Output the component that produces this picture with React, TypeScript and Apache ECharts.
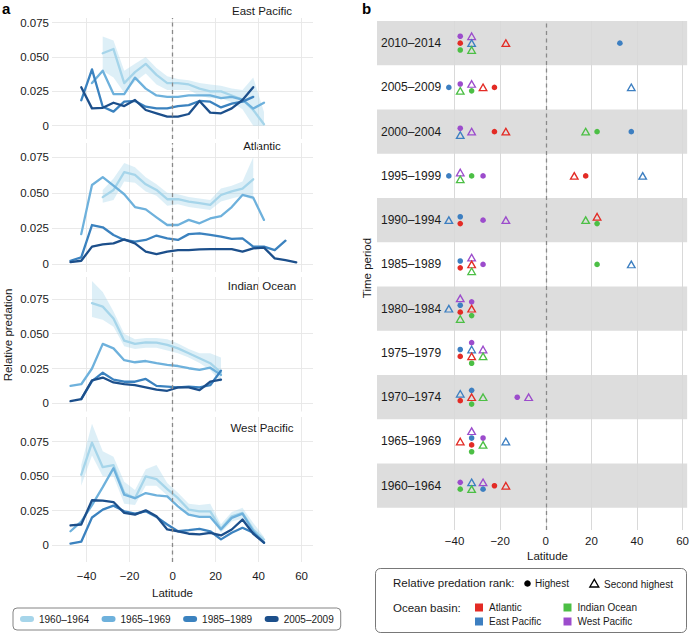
import React, { useEffect, useRef } from 'react';
import * as echarts from 'echarts';

// ---------- Panel a data ----------
const latBins = [-47.5, -42.5, -37.5, -32.5, -27.5, -22.5, -17.5, -12.5, -7.5, -2.5, 2.5, 7.5, 12.5, 17.5, 22.5, 27.5, 32.5, 37.5, 42.5, 47.5, 52.5, 57.5];
const periodsA = ['1960–1964', '1965–1969', '1985–1989', '2005–2009'];
const colorsA = ['#a6d5ea', '#6eb1dc', '#3b82bf', '#1c4f8b'];
const basinsA = ['East Pacific', 'Atlantic', 'Indian Ocean', 'West Pacific'];
const N = null;

const ep1960 = [N, N, N, 0.0527, 0.0558, 0.031, 0.039, 0.045, 0.037, 0.031, 0.031, 0.030, 0.027, 0.025, 0.025, 0.022, 0.019, 0.0114, 0.001, N, N, N];
const ep1965 = [N, N, 0.031, 0.040, 0.023, 0.023, 0.035, 0.027, 0.022, 0.021, 0.021, 0.022, 0.022, 0.022, 0.020, 0.021, 0.019, 0.0125, 0.0167, N, N, N];
const ep1985 = [N, 0.0185, 0.041, 0.0138, 0.0102, 0.0175, 0.018, 0.0138, 0.0126, 0.0126, 0.0143, 0.015, 0.018, 0.0175, 0.0133, 0.016, 0.0175, 0.021, N, N, N, N];
const ep2005 = [N, 0.028, 0.0126, 0.013, 0.0167, 0.0143, 0.0187, 0.0114, 0.009, 0.0066, 0.0066, 0.0085, 0.018, 0.0095, 0.009, 0.0126, 0.0187, 0.028, N, N, N, N];
const ep1960Lo = [N, N, N, 0.040, 0.035, 0.024, 0.032, 0.038, 0.030, 0.026, 0.026, 0.026, 0.022, 0.020, 0.020, 0.017, 0.012, 0.000, 0.000, N, N, N];
const ep1960Hi = [N, N, N, 0.065, 0.062, 0.040, 0.045, 0.050, 0.042, 0.036, 0.034, 0.033, 0.031, 0.030, 0.029, 0.027, 0.026, 0.035, 0.010, N, N, N];

const at1960 = [N, N, N, 0.047, 0.052, 0.0645, 0.0626, 0.056, 0.052, 0.0455, 0.0455, 0.0438, 0.0427, 0.0415, 0.0485, 0.051, 0.053, 0.0595, N, N, N, N];
const at1965 = [N, 0.021, 0.0555, 0.061, 0.055, 0.049, 0.040, 0.0384, 0.0328, 0.0274, 0.0274, 0.031, 0.0286, 0.032, 0.0337, 0.040, 0.0485, 0.0466, 0.031, N, N, N];
const at1985 = [0.0023, 0.0047, 0.0274, 0.0258, 0.0204, 0.0169, 0.0157, 0.0169, 0.020, 0.018, 0.0169, 0.021, 0.0216, 0.0204, 0.0192, 0.0176, 0.018, 0.0122, 0.0122, 0.0098, 0.0164, N];
const at2005 = [0.0014, 0.0023, 0.0122, 0.0138, 0.0145, 0.0173, 0.0145, 0.0087, 0.007, 0.0087, 0.0098, 0.0098, 0.0103, 0.0105, 0.0105, 0.0105, 0.0087, 0.011, 0.0115, 0.004, 0.0028, 0.0012];
const at1960Lo = [N, N, N, 0.043, 0.045, 0.058, 0.057, 0.051, 0.048, 0.041, 0.042, 0.040, 0.039, 0.038, 0.044, 0.046, 0.048, 0.045, N, N, N, N];
const at1960Hi = [N, N, N, 0.052, 0.060, 0.071, 0.068, 0.061, 0.056, 0.050, 0.049, 0.047, 0.046, 0.045, 0.053, 0.055, 0.058, 0.075, N, N, N, N];

const io1960 = [N, N, 0.072, 0.0695, 0.061, 0.045, 0.0427, 0.0438, 0.0436, 0.042, 0.0395, 0.036, 0.0324, 0.0288, 0.022, N, N, N, N, N, N, N];
const io1965 = [0.0125, 0.0137, 0.025, 0.0427, 0.0395, 0.031, 0.0295, 0.0304, 0.0288, 0.0276, 0.0268, 0.0252, 0.024, 0.0256, 0.0204, N, N, N, N, N, N, N];
const io1985 = [N, 0.003, 0.016, 0.022, 0.017, 0.0155, 0.0155, 0.0175, 0.0125, 0.012, 0.0115, 0.012, 0.0115, 0.013, 0.0235, N, N, N, N, N, N, N];
const io2005 = [0.0015, 0.003, 0.0165, 0.0185, 0.015, 0.0138, 0.013, 0.0115, 0.0098, 0.009, 0.0115, 0.0115, 0.0095, 0.0155, 0.017, N, N, N, N, N, N, N];
const io1960Lo = [N, N, 0.062, 0.060, 0.055, 0.041, 0.039, 0.040, 0.040, 0.038, 0.036, 0.033, 0.029, 0.024, 0.015, N, N, N, N, N, N, N];
const io1960Hi = [N, N, 0.088, 0.080, 0.066, 0.050, 0.046, 0.047, 0.047, 0.046, 0.043, 0.039, 0.036, 0.036, 0.033, N, N, N, N, N, N, N];

const wp1960 = [N, 0.051, 0.0743, 0.0565, 0.058, 0.0377, 0.034, 0.0498, 0.0478, 0.0406, 0.034, 0.0257, 0.0245, 0.0245, 0.0118, 0.0209, 0.0233, 0.0113, 0.004, N, N, N];
const wp1965 = [0.010, 0.017, 0.029, 0.042, 0.0558, 0.0365, 0.034, 0.0377, 0.036, 0.0353, 0.028, 0.022, 0.0204, 0.0204, 0.0113, 0.0197, 0.0228, 0.010, 0.0017, N, N, N];
const wp1985 = [0.001, 0.0024, 0.020, 0.0257, 0.0286, 0.0245, 0.0228, 0.0245, 0.0204, 0.0149, 0.010, 0.0108, 0.0118, 0.010, 0.0041, 0.0089, 0.0125, 0.0089, 0.0017, N, N, N];
const wp2005 = [0.0142, 0.0149, 0.0325, 0.0322, 0.0312, 0.0233, 0.0221, 0.0252, 0.0209, 0.0113, 0.010, 0.0082, 0.0077, 0.0089, 0.007, 0.0113, 0.0185, 0.0082, 0.0017, N, N, N];
const wp1960Lo = [N, 0.043, 0.065, 0.050, 0.050, 0.030, 0.029, 0.043, 0.043, 0.036, 0.030, 0.022, 0.021, 0.020, 0.009, 0.017, 0.019, 0.008, 0.002, N, N, N];
const wp1960Hi = [N, 0.058, 0.088, 0.068, 0.064, 0.046, 0.040, 0.055, 0.058, 0.045, 0.038, 0.030, 0.029, 0.030, 0.015, 0.024, 0.027, 0.016, 0.006, N, N, N];

const xTicks = [-40, -20, 0, 20, 40, 60];
const yTicksA = [0, 0.025, 0.05, 0.075];

// ---------- Panel b data ----------
const periodsB = ['1960–1964', '1965–1969', '1970–1974', '1975–1979', '1980–1984', '1985–1989', '1990–1994', '1995–1999', '2000–2004', '2005–2009', '2010–2014'];
const oceanNames = ['West Pacific', 'East Pacific', 'Atlantic', 'Indian Ocean'];
const oceanColors = ['#9c4ccc', '#3d7fc1', '#e32b25', '#4cbf45'];
const wpHighest = [-37.5, -27.5, -12.5, -32.5, -32.5, -27.5, -27.5, -27.5, -37.5, -37.5, -37.5];
const wpSecond = [-27.5, -32.5, -7.5, -27.5, -37.5, -32.5, -17.5, -37.5, -32.5, -32.5, -32.5];
const epHighest = [-27.5, -32.5, -32.5, -37.5, -37.5, -37.5, -37.5, -42.5, 37.5, -42.5, 32.5];
const epSecond = [-32.5, -17.5, -37.5, -32.5, -42.5, 37.5, -42.5, 42.5, -37.5, 37.5, -32.5];
const atlHighest = [-22.5, -32.5, -37.5, -37.5, -37.5, -37.5, -37.5, 17.5, -22.5, -22.5, -37.5];
const atlSecond = [-17.5, -37.5, -32.5, -32.5, -32.5, -32.5, 22.5, 12.5, -17.5, -27.5, -17.5];
const ioHighest = [-37.5, -32.5, -32.5, -32.5, -32.5, 22.5, 22.5, -32.5, 22.5, -32.5, -37.5];
const ioSecond = [-32.5, -27.5, -27.5, -27.5, -37.5, -32.5, 17.5, -37.5, 17.5, -37.5, -32.5];

const FONT = '"Liberation Sans", Arial, Helvetica, sans-serif';
const TXT = '#1a1a1a';

function fmtLat(v: number) {
  return v < 0 ? '\u2212' + Math.abs(v) : String(v);
}

function buildOption() {
  const panelLines = [
    [ep1960, ep1965, ep1985, ep2005],
    [at1960, at1965, at1985, at2005],
    [io1960, io1965, io1985, io2005],
    [wp1960, wp1965, wp1985, wp2005],
  ];
  const panelRibbons = [
    [ep1960Lo, ep1960Hi],
    [at1960Lo, at1960Hi],
    [io1960Lo, io1960Hi],
    [wp1960Lo, wp1960Hi],
  ];
  const layout = [
    { top: 18, bottom: 139, min: -0.0097, max: 0.0784, titleY: 11 },
    { top: 143, bottom: 272, min: -0.0056, max: 0.085, titleY: 146 },
    { top: 277, bottom: 411.5, min: -0.0059, max: 0.0908, titleY: 286 },
    { top: 417, bottom: 562, min: -0.0123, max: 0.0929, titleY: 428 },
  ];
  const grid: any[] = [];
  const xAxis: any[] = [];
  const yAxis: any[] = [];
  const series: any[] = [];
  const graphic: any[] = [];
  const gridColor = '#e6e6e6';

  layout.forEach((p, i) => {
    grid.push({ left: 52, width: 261, top: p.top, height: p.bottom - p.top });
    xAxis.push({
      type: 'value', gridIndex: i, min: -56.1, max: 65.3,
      axisLine: { show: false },
      axisTick: { show: false, customValues: xTicks },
      axisLabel: { show: i === 3, customValues: xTicks, formatter: fmtLat, fontSize: 11.5, fontFamily: FONT, color: TXT, margin: 8 },
      splitLine: { show: true, lineStyle: { color: gridColor, width: 0.9 } },
    });
    yAxis.push({
      type: 'value', gridIndex: i, min: p.min, max: p.max,
      axisLine: { show: false },
      axisTick: { show: false, customValues: yTicksA },
      axisLabel: { customValues: yTicksA, formatter: (v: number) => (v === 0 ? '0' : v.toFixed(3)), fontSize: 11.5, fontFamily: FONT, color: TXT, margin: 3 },
      splitLine: { show: true, lineStyle: { color: gridColor, width: 0.9 } },
    });
    const [lo, hi] = panelRibbons[i];
    const idx = latBins.map((_, k) => k).filter((k) => lo[k] != null && hi[k] != null);
    series.push({
      type: 'custom', name: 'ribbon' + i, xAxisIndex: i, yAxisIndex: i, silent: true, z: 1,
      data: [[latBins[idx[0]], lo[idx[0]]]],
      renderItem: (params: any, api: any) => {
        if (params.dataIndex !== 0) return null;
        const upper = idx.map((k) => api.coord([latBins[k], hi[k]]));
        const lower = idx.slice().reverse().map((k) => api.coord([latBins[k], lo[k]]));
        return {
          type: 'polygon',
          shape: { points: upper.concat(lower) },
          style: { fill: 'rgba(166,213,234,0.38)', stroke: 'none' },
        };
      },
    });
    panelLines[i].forEach((vals, j) => {
      const s: any = {
        type: 'line', name: periodsA[j], xAxisIndex: i, yAxisIndex: i,
        data: latBins.map((x, k) => [x, vals[k]]).filter((d) => d[1] != null),
        symbol: 'none', color: colorsA[j],
        lineStyle: { width: 2.3, color: colorsA[j], join: 'round', cap: 'round' },
        itemStyle: { color: colorsA[j] }, z: 2,
      };
      if (j === 0) {
        s.markLine = {
          silent: true, symbol: ['none', 'none'], label: { show: false },
          lineStyle: { type: [4, 3.5], color: '#8a8a8a', width: 1.3 },
          data: [{ xAxis: 0 }],
        };
      }
      series.push(s);
    });
    graphic.push({
      type: 'text', x: 262, y: p.titleY,
      style: { text: basinsA[i], fontSize: 11.5, fontFamily: FONT, fill: TXT, align: 'center', verticalAlign: 'middle' },
    });
  });

  // ---------- Panel b ----------
  const gi = 4;
  grid.push({ left: 377, width: 313, top: 21, height: 509 });
  xAxis.push({
    type: 'value', gridIndex: gi, min: -74, max: 62, z: 3,
    axisLine: { show: false },
    axisTick: { show: false, customValues: xTicks },
    axisLabel: { customValues: xTicks, formatter: fmtLat, fontSize: 11.5, fontFamily: FONT, color: TXT, margin: 5 },
    splitLine: { show: true, lineStyle: { color: '#d9d9d9', width: 1 } },
  });
  const rowTicks = periodsB.map((_, k) => k + 1);
  yAxis.push({
    type: 'value', gridIndex: gi, min: 0, max: 11.5, z: 3,
    axisLine: { show: false },
    axisTick: { show: false, customValues: rowTicks },
    axisLabel: { inside: true, customValues: rowTicks, formatter: (v: number) => periodsB[Math.round(v) - 1] || '', fontSize: 12, fontFamily: FONT, color: TXT, margin: 4 },
    splitLine: { show: false },
  });
  const bandRows = rowTicks.filter((_, k) => k % 2 === 0);
  series.push({
    type: 'scatter', name: 'bands', xAxisIndex: gi, yAxisIndex: gi, data: [], silent: true, z: 1,
    markArea: {
      silent: true, itemStyle: { color: '#dddddd' },
      data: bandRows.map((r) => [{ yAxis: r - 0.5 }, { yAxis: r + 0.5 }]),
    },
  });
  series.push({
    type: 'scatter', name: 'zeroB', xAxisIndex: gi, yAxisIndex: gi, data: [], silent: true, z: 4,
    markLine: {
      silent: true, symbol: ['none', 'none'], label: { show: false },
      lineStyle: { type: [4, 3.5], color: '#8a8a8a', width: 1.3 },
      data: [{ xAxis: 0 }],
    },
  });

  const highs = [wpHighest, epHighest, atlHighest, ioHighest];
  const seconds = [wpSecond, epSecond, atlSecond, ioSecond];
  const pts: any[][][] = oceanNames.map(() => [[], []]);
  const step = 0.155;
  periodsB.forEach((_, p) => {
    const items: { o: number; r: number; lat: number }[] = [];
    oceanNames.forEach((__, o) => {
      items.push({ o, r: 0, lat: highs[o][p] });
      items.push({ o, r: 1, lat: seconds[o][p] });
    });
    const groups: Record<string, typeof items> = {};
    items.forEach((it) => {
      const key = String(it.lat);
      (groups[key] = groups[key] || []).push(it);
    });
    Object.values(groups).forEach((g) => {
      g.sort((a, b) => a.o - b.o || a.r - b.r);
      const n = g.length;
      g.forEach((it, k) => {
        pts[it.o][it.r].push([it.lat, p + 1 + ((n - 1) / 2 - k) * step]);
      });
    });
  });
  oceanNames.forEach((name, o) => {
    series.push({
      type: 'scatter', name: name + ' highest', xAxisIndex: gi, yAxisIndex: gi, z: 5,
      data: pts[o][0], symbol: 'circle', symbolSize: 5.6,
      itemStyle: { color: oceanColors[o], opacity: 1 },
    });
    series.push({
      type: 'scatter', name: name + ' second', xAxisIndex: gi, yAxisIndex: gi, z: 5,
      data: pts[o][1], symbol: 'triangle', symbolSize: [7.6, 6.6],
      itemStyle: { color: 'rgba(0,0,0,0)', borderColor: oceanColors[o], borderWidth: 1.3, opacity: 1 },
    });
  });

  // ---------- Texts ----------
  const t = (text: string, x: number, y: number, size: number, extra: any = {}, styleExtra: any = {}) => ({
    type: 'text', x, y, ...extra,
    style: { text, fontSize: size, fontFamily: FONT, fill: TXT, align: 'left', verticalAlign: 'middle', ...styleExtra },
  });
  graphic.push(t('a', 2, 8, 15, {}, { fontWeight: 'bold', fill: '#000' }));
  graphic.push(t('b', 362, 8, 15, {}, { fontWeight: 'bold', fill: '#000' }));
  graphic.push(t('Relative predation', 8, 335, 11.5, { rotation: Math.PI / 2 }, { align: 'center' }));
  graphic.push(t('Time period', 367, 268, 11.5, { rotation: Math.PI / 2 }, { align: 'center' }));
  graphic.push(t('Latitude', 172.5, 593, 11.5, {}, { align: 'center' }));
  graphic.push(t('Latitude', 547.5, 556, 11.5, {}, { align: 'center' }));

  // right legend
  graphic.push({ type: 'rect', shape: { x: 375.5, y: 568.5, width: 311, height: 64, r: 5 }, style: { fill: 'none', stroke: '#555', lineWidth: 0.8 } });
  graphic.push(t('Relative predation rank:', 393, 583, 11.5));
  graphic.push({ type: 'circle', shape: { cx: 527.5, cy: 583.5, r: 3.3 }, style: { fill: '#000' } });
  graphic.push(t('Highest', 535, 583, 10));
  graphic.push({ type: 'polygon', shape: { points: [[594.3, 579.3], [589.8, 587], [598.8, 587]] }, style: { fill: 'none', stroke: '#000', lineWidth: 1.3 } });
  graphic.push(t('Second highest', 604, 584, 10));
  graphic.push(t('Ocean basin:', 393, 607.5, 11.5));
  const legendPos = [
    { o: 2, x: 475, y: 607.5 },
    { o: 3, x: 563.5, y: 607.5 },
    { o: 1, x: 475, y: 621.5 },
    { o: 0, x: 563.5, y: 621.5 },
  ];
  legendPos.forEach((lp) => {
    graphic.push({ type: 'rect', shape: { x: lp.x, y: lp.y - 4, width: 8, height: 8 }, style: { fill: oceanColors[lp.o] } });
    graphic.push(t(oceanNames[lp.o], lp.x + 14, lp.y, 10));
  });

  return {
    animation: false,
    backgroundColor: '#ffffff',
    textStyle: { fontFamily: FONT },
    grid, xAxis, yAxis, series, graphic,
    legend: {
      data: periodsA, left: 13, top: 608, orient: 'horizontal',
      padding: [6, 7, 6, 7], itemGap: 12.5, itemWidth: 14, itemHeight: 6,
      icon: 'path://M3,0L11,0A3,3,0,0,1,11,6L3,6A3,3,0,0,1,3,0Z',
      textStyle: { fontSize: 10, fontFamily: FONT, color: TXT, padding: [0, 0, 0, 0] },
      borderColor: '#666', borderWidth: 0.8, borderRadius: 4,
      selectedMode: false,
    },
  };
}

export default function App() {
  const ref = useRef<HTMLDivElement>(null);
  useEffect(() => {
    if (!ref.current) return;
    const chart = echarts.init(ref.current, undefined, { renderer: 'svg' });
    chart.setOption(buildOption() as any);
    return () => chart.dispose();
  }, []);
  return <div ref={ref} style={{ position: 'fixed', left: 0, top: 0, width: 692, height: 635 }} />;
}
